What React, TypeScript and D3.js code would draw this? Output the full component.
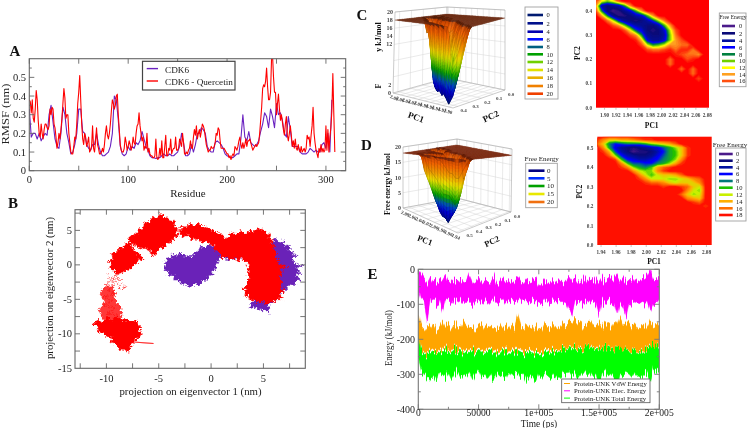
import React, { useMemo } from 'react';
import * as d3 from 'd3';

// ---------- Panel A ----------
const rmsfComplex = [
  .38,.37,.31,.38,.28,.26,.33,.43,.38,.27,
  .2,.18,.25,.2,.17,.22,.25,.25,.23,.22,
  .24,.33,.3,.34,.33,.25,.23,.18,.12,.15,
  .2,.17,.22,.28,.36,.44,.39,.28,.3,.3,
  .2,.15,.1,.09,.09,.13,.18,.17,.25,.36,
  .42,.51,.38,.25,.17,.14,.2,.18,.13,.15,
  .18,.1,.11,.13,.24,.12,.1,.16,.23,.14,
  .12,.09,.09,.1,.12,.1,.14,.2,.24,.19,
  .17,.2,.25,.32,.38,.36,.33,.35,.4,.41,
  .3,.22,.14,.11,.1,.1,.12,.18,.15,.11,
  .13,.16,.14,.11,.13,.18,.15,.14,.2,.24,
  .25,.31,.24,.2,.16,.18,.11,.13,.12,.2,
  .1,.12,.09,.08,.08,.07,.07,.08,.17,.07,
  .06,.07,.12,.08,.16,.07,.07,.13,.19,.08,
  .08,.12,.11,.17,.09,.11,.12,.12,.18,.11,
  .11,.12,.17,.15,.13,.2,.15,.09,.09,.1,
  .09,.11,.12,.16,.12,.12,.18,.22,.19,.24,
  .17,.2,.22,.18,.21,.25,.24,.22,.18,.14,
  .12,.1,.11,.11,.13,.12,.12,.13,.15,.2,
  .19,.23,.22,.16,.12,.12,.12,.12,.11,.1,
  .09,.09,.07,.08,.06,.08,.09,.08,.13,.12,
  .11,.13,.16,.18,.14,.12,.15,.12,.14,.17,
  .13,.16,.16,.17,.15,.13,.11,.12,.13,.14,
  .13,.14,.15,.2,.27,.34,.44,.46,.45,.48,
  .55,.45,.38,.38,.42,.6,.62,.5,.42,.42,
  .3,.36,.41,.33,.27,.3,.26,.22,.19,.25,
  .29,.19,.16,.2,.24,.19,.13,.16,.12,.17,
  .12,.11,.14,.11,.1,.13,.1,.11,.12,.1,
  .12,.19,.17,.18,.13,.19,.24,.34,.2,.15,
  .11,.09,.07,.12,.1,.14,.1,.12,.1,.11,
  .24,.11,.22,.1,.18,.23,.32,.52,.3,.1,
];
const rmsfApo = [
  .33,.18,.2,.2,.17,.2,.16,.18,.2,.19,.3,.35,.26,.17,.13,.12,.2,.34,.3,.2,
  .15,.09,.1,.14,.2,.33,.33,.21,.2,.14,.12,.11,.14,.14,.2,.14,.1,.08,.08,.09,
  .1,.13,.2,.4,.38,.27,.13,.09,.08,.09,.13,.11,.13,.12,.15,.14,.16,.21,.17,.13,
  .11,.08,.07,.07,.065,.07,.07,.08,.09,.08,.08,.09,.08,.08,.09,.1,.13,.2,.15,.08,
  .08,.09,.14,.1,.14,.2,.2,.23,.22,.2,.13,.11,.1,.1,.15,.16,.15,.14,.12,.09,
  .08,.075,.07,.07,.08,.09,.09,.17,.3,.18,.16,.21,.15,.14,.13,.14,.16,.21,.25,.31,
  .29,.23,.33,.29,.23,.36,.3,.31,.27,.2,.18,.29,.22,.13,.13,.13,.13,.1,.09,.09,
  .09,.1,.12,.11,.1,.11,.1,.1,.14,.15,.12,.2,.1,.38,
];
const rmsfXTicks = [0, 100, 200, 300];
const rmsfYTicks = [0, 0.1, 0.2, 0.3, 0.4, 0.5];

// ---------- Panel B (nm) ----------
type P = [number, number];
const purpleLeft: P[] = [[-4.5,.3],[-4.2,.5],[-4.2,1.0],[-3.8,1.1],[-3.8,1.6],[-3.3,1.3],[-2.9,1.7],[-2.5,1.2],[-2.1,1.4],[-1.8,1.0],[-1.5,1.9],[-1.2,2.1],[-1.0,2.7],[-.5,2.6],[-.2,3.0],[.3,2.6],[.8,2.7],[1.2,2.0],[1.8,2.0],[2.4,1.5],[2.9,.9],[2.0,.8],[1.4,.8],[1.0,1.2],[.7,.7],[.6,.2],[.4,-.1],[.5,-.6],[.1,-.8],[.2,-1.4],[-.3,-1.6],[-.4,-2.2],[-.8,-2.3],[-1.1,-3.0],[-1.5,-2.7],[-1.9,-3.3],[-2.3,-2.8],[-2.8,-2.8],[-3.0,-2.2],[-3.6,-2.2],[-3.5,-1.6],[-4.1,-1.5],[-4.0,-.9],[-4.5,-.7],[-4.3,-.2]];
const purpleRight: P[] = [[4.5,3.0],[5.4,3.6],[5.7,3.0],[6.1,3.8],[6.6,3.2],[6.9,3.5],[7.0,2.7],[7.5,2.9],[7.4,2.1],[7.9,2.0],[7.7,1.4],[8.2,1.4],[7.8,.8],[8.0,.1],[8.8,-.1],[8.1,-.5],[8.6,-1.2],[8.1,-1.4],[8.5,-2.2],[8.0,-2.4],[8.1,-3.0],[7.4,-2.8],[7.2,-3.6],[6.9,-3.4],[6.8,-4.2],[6.4,-4.0],[6.2,-5.3],[5.7,-5.4],[5.4,-5.7],[5.6,-7.0],[5.0,-6.5],[4.6,-6.5],[4.4,-6.2],[3.9,-6.3],[3.7,-5.9],[4.0,-5.2],[4.5,-4]];
const redMain: P[] = [[4.5,5.4],[4.9,4.9],[5.0,5.2],[5.3,4.4],[5.6,4.5],[5.5,3.9],[5.9,3.6],[5.7,3.2],[6.1,2.7],[5.9,2.3],[6.3,1.7],[6.1,1.2],[6.5,.6],[6.3,.2],[6.8,-.1],[7.3,-.4],[6.6,-.5],[6.8,-1.2],[6.5,-1.8],[6.8,-2.5],[6.6,-3.1],[6.9,-3.8],[6.6,-4.3],[6.8,-4.9],[6.3,-4.9],[6.1,-5.5],[5.7,-5.2],[5.3,-5.7],[4.9,-5.2],[4.4,-5.5],[4.1,-5.1],[3.6,-5.0],[3.6,-4.5],[3.1,-4.3],[3.4,-3.8],[3.0,-3.4],[3.5,-3.0],[3.4,-2.4],[3.7,-2.0],[3.5,-1.4],[3.7,-.9],[3.5,-.3],[3.6,.2],[3.1,.6],[2.9,1.1],[2.6,.4],[2.3,1.0],[1.9,.8],[1.5,1.2],[1.1,1.0],[.8,1.9],[.3,2.2],[.4,2.8],[-.1,2.9],[-.4,3.5],[-.9,3.1],[-1.3,3.9],[-1.8,3.6],[-2.2,4.3],[-2.7,4.0],[-3.1,4.9],[-2.7,5.2],[-2.9,5.6],[-2.3,5.5],[-2.1,6.0],[-1.6,5.6],[-1.2,6.1],[-.8,5.5],[-.4,5.6],[0,5.0],[.3,5.1],[.6,4.5],[1.0,4.5],[1.4,3.8],[1.7,4.2],[2.0,4.7],[2.4,4.4],[2.8,4.9],[3.3,4.5],[3.7,5.0],[4.0,4.8]];
const redUpper: P[] = [[-7.9,3.9],[-7.5,4.4],[-7.2,4.3],[-6.9,5.2],[-6.5,5.3],[-6.3,6.2],[-5.9,6.1],[-5.6,6.9],[-5.1,6.8],[-4.9,7.5],[-4.5,6.9],[-4.2,7.0],[-4.0,6.4],[-3.5,6.3],[-3.5,5.7],[-3.1,5.4],[-3.3,4.8],[-3.1,4.2],[-3.6,3.9],[-3.7,3.3],[-4.2,3.1],[-4.5,2.4],[-4.9,2.6],[-5.2,1.7],[-5.6,1.2],[-5.8,2.0],[-6.3,2.4],[-6.7,2.3],[-7.2,2.8],[-7.6,3.0]];
const redMid: P[] = [[-8.0,3.3],[-7.5,2.7],[-7.4,2.1],[-7.0,1.8],[-6.7,1.3],[-6.3,.6],[-6.9,.9],[-7.1,.2],[-7.5,-.1],[-7.7,-.7],[-8.1,-.8],[-8.5,-1.1],[-9.1,-1.4],[-9.2,-.8],[-9.7,-.5],[-9.5,0],[-9.8,.5],[-9.4,1.0],[-9.5,1.7],[-9.0,1.8],[-8.8,2.5],[-8.4,2.4]];
const redLow: P[] = [[-11.3,-8.5],[-10.8,-8.0],[-10.4,-8.3],[-10.0,-7.6],[-9.5,-8.0],[-9.1,-7.5],[-8.6,-8.0],[-8.1,-7.9],[-7.6,-8.3],[-7.1,-7.9],[-7.0,-8.6],[-6.7,-9.0],[-6.9,-9.5],[-6.5,-10.1],[-7.0,-10.5],[-7.3,-11.1],[-7.6,-11.4],[-7.7,-12.1],[-8.0,-12.7],[-8.4,-12.2],[-8.8,-12.3],[-9.0,-11.5],[-9.6,-11.2],[-9.4,-10.6],[-10.1,-10.3],[-10.4,-9.9],[-10.9,-9.5],[-10.7,-9.0]];
const redColumn: P[] = [[-10.6,-4.2],[-10.1,-3.0],[-9.3,-3.4],[-9.2,-4.9],[-8.7,-6.0],[-8.5,-7],[-8.6,-8.1],[-10.3,-8.1],[-10.7,-6.6],[-10.2,-5.4]];
const redScribble: P[] = [[-9.9,-1.3],[-9.6,-1.7],[-9.9,-2.1],[-9.2,-1.9],[-8.8,-2.2],[-9.5,-2.5],[-8.5,-2.9],[-8.2,-3.3],[-8.8,-3.5],[-8.0,-3.2],[-8.4,-2.5],[-9.0,-1.6],[-9.7,-2.4],[-10.0,-3.1],[-9.3,-3.0],[-9.8,-3.7],[-9.1,-4.2],[-10.2,-4.6],[-9.4,-5.2],[-10.3,-5.9],[-9.0,-6.3],[-10.0,-7.0],[-8.9,-7.3]];
const redTail: P[] = [[-8.6,-11.1],[-7.2,-11.2],[-5.5,-11.4],[-6.6,-11.3],[-7.8,-11.1]];
const pcaTicks = [-10, -5, 0, 5];
const pcaYTicks = [-15, -10, -5, 0, 5];

// ---------- Panels C and D: free energy matrices (rows from high PC2 to low) ----------
const cGridPC1 = [1.885, 2.085];
const cGridPC2 = [0.44, 0];
const cNumCols = 21;
const cEnergy: number[][] = [
  [16,12,10,12,16],
  [14,4,2,3,4,8,14],
  [16,8,2,0,1,3,5,9,14],
  [18,14,8,3,1,1,2,4,5,9,14],
  [18,18,15,11,6,3,2,1,2,4,7,11,15],
  [18,18,18,16,14,10,6,4,3,2,2,4,9,14],
  [18,18,18,18,18,16,12,7,5,2,1,2,5,11,16],
  [18,18,18,18,18,18,16,14,8,3,2,2,4,10,15],
  [18,18,18,18,18,18,18,17,13,5,3,3,5,10,14,16],
  [18,18,18,18,18,18,18,18,16,11,8,9,11,14,14,15,15],
  [18,18,18,18,18,18,18,18,18,16,15,15,16,17,15,17,17,15],
  [18,18,18,18,18,18,18,18,18,18,18,18,18,18,17,16,15,15,14],
  [18,18,18,18,18,18,18,18,18,18,18,18,18,15,18,18,16,17],
  [18,18,18,18,18,18,18,18,18,18,18,18,18,15],
  [18,18,18,18,18,18,18,18,18,18,18,18,18,18,18,15,18,15],
  [18,18,18,18,18,18,18,18,18,18,18,18,18,18,18,18,18,15],
  [18,18,18,18,18,18,18,18,18,18,18,18,18,18,18,18,18,18,16],
  [],[],[],[],[],[],
];
const dGridPC1 = [1.935, 2.087];
const dGridPC2 = [0.56, 0];
const dNumCols = 20;
const dEnergy: number[][] = [
  [],
  [17,15,13,13,14,14,15,16,17,17],
  [16,13,8,6,7,8,8,8,9,11,12,13,14,16],
  [18,15,9,5,3,2,1,2,3,4,5,7,9,11,13,17],
  [18,17,14,7,4,2,0,1,1,2,4,6,9,10,13,17],
  [18,18,16,11,6,4,3,2,2,3,5,7,9,10,13,17],
  [18,18,18,17,10,6,5,4,4,5,6,8,9,11,15],
  [18,18,18,18,15,10,7,7,6,6,8,9,11,14,17],
  [18,18,18,18,17,15,11,9,8,10,14,16,17],
  [18,18,18,18,18,18,15,12,11,11,15,17],
  [18,18,18,18,18,18,18,15,12,10,12,13,13,14,16],
  [18,18,18,18,18,18,18,17,15,12,12,12,11,11,12,13,15,16],
  [18,18,18,18,18,18,18,18,17,16,16,15,13,12,13,13,13,15],
  [18,18,18,18,18,18,18,18,18,18,18,17,18,18,17,16,13,12],
  [18,18,18,18,18,18,18,18,18,18,18,18,18,18,18,15,12,11],
  [18,18,18,18,18,18,18,18,18,18,18,18,18,18,16,13,11,12],
  [18,18,18,18,18,18,18,18,18,18,18,18,18,18,18,15,14,13],
  [18,18,18,18,18,18,18,18,18,18,18,18,18,18,18,18,17,16],
  [18,18,18,18,18,18,18,18,18,18,18,18,18,18,18,18,18,18,17],
  [],[],[],[],[],[],[],[],[],[],
];
const plateau = 18;

const cHeatX = [1.90,1.92,1.94,1.96,1.98,2.00,2.02,2.04,2.06,2.08];
const cHeatY = [0.0,0.1,0.2,0.3,0.4];
const dHeatX = [1.94,1.96,1.98,2.00,2.02,2.04,2.06,2.08];
const dHeatY = [0.0,0.1,0.2,0.3,0.4,0.5];

const heatCStops = [0,2,4,6,8,10,12,14,16,18];
const heatCColors = ['#4b1a8a','#0a0a78','#0010a0','#0000ff','#008040','#70d000','#ffff00','#ffa020','#ff5010','#ff0000'];
const heatDColors = ['#4b1a8a','#0a0a78','#0010a0','#0000ff','#007878','#20c000','#c8f000','#ffb000','#ff7000','#ff1000'];
const surfStops = [0,3,5,7,9,11,13,16,18];
const surfColors = ['#001a70','#0000d0','#0050c0','#00a000','#80d000','#f0e000','#f0a000','#f06000','#c04000'];
const legend3DColors = ['#001a70','#00108c','#0000b0','#0010ff','#006080','#00a000','#70d000','#e0e000','#e8b000','#f08000','#f04000'];

const cLegend3D = [0,2,4,6,8,10,12,14,16,18,20];
const dLegend3D = [0,5,10,15,20];
const dLegend3DColors = ['#000080','#0030ff','#00a000','#e8e800','#f07010'];
const cLegend2D = [0,2,4,6,8,10,12,14,16];
const dLegend2D = [0,2,4,6,8,10,12,14,16,18];

// ---------- Panel E ----------
const timeStep = 2500;
const magentaTop = [-3,-15,-28,-40,-22,-38,-30,-26,-35,-20,-42,-36,-30,-38,-28,-40,-34,-12,-32,-36,-25,-40,-30,-38,-34,-20,-42,-36,-28,-40,-32,-38,-30,-24,-36,-42,-30,-38,-35,-28,-44,-38,-30,-40,-34,-42,-36,-30,-38,-34,-22,-34,-28,-40,-32,-24,-38,-30,-36,-26,-38,-24,-34,-28,-20,-30,-18,-34,-26,-38,-30,-22,-36,-30,-34,-24,-18,-2,-28,-30,-25];
const magentaBottom = [-55,-88,-95,-145,-92,-85,-95,-90,-120,-88,-92,-100,-85,-95,-90,-100,-92,-88,-98,-85,-92,-95,-88,-100,-90,-85,-95,-92,-88,-100,-94,-86,-92,-98,-90,-88,-96,-100,-92,-94,-90,-98,-86,-92,-100,-90,-94,-88,-96,-92,-115,-135,-100,-95,-90,-98,-92,-100,-94,-98,-130,-92,-98,-90,-96,-100,-130,-95,-105,-140,-100,-92,-98,-94,-96,-100,-92,-120,-96,-100,-88];
const orangeTop = [-120,-165,-175,-160,-170,-155,-172,-165,-150,-168,-160,-172,-155,-165,-170,-150,-160,-168,-158,-170,-162,-155,-172,-165,-160,-170,-168,-158,-172,-165,-175,-160,-170,-135,-165,-172,-160,-170,-175,-160,-168,-172,-155,-165,-170,-160,-172,-168,-155,-160,-150,-158,-145,-155,-150,-165,-158,-150,-165,-160,-155,-168,-152,-160,-165,-148,-160,-135,-155,-160,-150,-165,-158,-170,-165,-155,-168,-150,-160,-165,-155];
const orangeBottom = [-180,-228,-235,-240,-230,-225,-235,-228,-230,-222,-235,-230,-226,-232,-225,-235,-228,-230,-222,-232,-226,-230,-235,-228,-224,-232,-228,-235,-226,-230,-238,-232,-228,-236,-230,-240,-234,-230,-238,-232,-236,-240,-232,-228,-236,-230,-234,-228,-224,-222,-226,-220,-224,-228,-220,-225,-218,-222,-226,-220,-228,-224,-218,-225,-222,-228,-220,-224,-226,-230,-235,-232,-228,-236,-230,-232,-224,-220,-215,-222,-218];
const greenTop = [-170,-235,-240,-245,-238,-232,-240,-235,-238,-230,-240,-236,-230,-238,-232,-242,-235,-238,-228,-240,-232,-236,-242,-235,-230,-240,-236,-242,-232,-238,-245,-240,-236,-242,-238,-248,-240,-236,-245,-240,-242,-248,-240,-235,-242,-238,-240,-232,-228,-226,-230,-225,-228,-232,-225,-228,-218,-226,-230,-225,-232,-226,-220,-228,-225,-230,-222,-215,-228,-232,-238,-236,-230,-240,-234,-236,-228,-225,-190,-222,-225];
const greenBottom = [-245,-290,-300,-310,-318,-305,-320,-295,-300,-310,-295,-315,-300,-290,-310,-298,-305,-292,-315,-300,-290,-308,-296,-312,-300,-318,-295,-305,-300,-312,-295,-308,-300,-296,-310,-300,-318,-305,-310,-322,-300,-310,-296,-305,-312,-300,-315,-308,-295,-300,-290,-305,-295,-310,-298,-290,-305,-295,-310,-300,-330,-300,-292,-305,-298,-310,-335,-300,-305,-295,-300,-310,-295,-305,-310,-300,-298,-320,-285,-295,-290];
const energyXTicks = [0, 50000, 100000, 150000, 200000];
const energyXLabels = ['0', '50000', '1e+005', '1.5e+005', '2e+005'];
const energyYTicks = [0, -100, -200, -300, -400];
const energyLegend = ['Protein-UNK VdW Energy', 'Protein-UNK Elec. Energy', 'Protein-UNK Total Energy'];
const energyColors = ['#ffa500', '#ff00ff', '#00ff00'];

const SERIF = '"Liberation Serif", serif';

function Box({ x0, x1, y0, y1, xs, ys, color = '#666', major = 5, minor = 2.5, xMinor = [], yMinor = [] }: any) {
  const seg: string[] = [];
  xs.forEach((x: number) => seg.push(`M${x},${y0}v${-major}M${x},${y1}v${major}`));
  ys.forEach((y: number) => seg.push(`M${x0},${y}h${major}M${x1},${y}h${-major}`));
  xMinor.forEach((x: number) => seg.push(`M${x},${y0}v${-minor}M${x},${y1}v${minor}`));
  yMinor.forEach((y: number) => seg.push(`M${x0},${y}h${minor}M${x1},${y}h${-minor}`));
  return (
    <g fill="none" stroke={color}>
      <rect x={x0} y={y1} width={x1 - x0} height={y0 - y1} strokeWidth={1.1} />
      <path d={seg.join('')} strokeWidth={0.9} />
    </g>
  );
}

function PanelA() {
  const x = d3.scaleLinear([0, 320], [29.3, 345.7]);
  const y = d3.scaleLinear([0, 0.6], [170.7, 58.7]);
  const lineC = d3.line<number>().x((_, i) => x(i)).y((d) => y(d));
  const lineP = d3.line<number>().x((_, i) => x(i * 2)).y((d) => y(d));
  return (
    <g>
      <clipPath id="clipA"><rect x={29.3} y={58.7} width={316.4} height={112} /></clipPath>
      <g clipPath="url(#clipA)" fill="none" strokeWidth={1.1} strokeLinejoin="round">
        <path d={lineP(rmsfApo)!} stroke="#6a22c0" />
        <path d={lineC(rmsfComplex)!} stroke="#ff0000" />
      </g>
      <Box x0={29.3} x1={345.7} y0={170.7} y1={58.7}
        xs={d3.range(0, 320, 50).map((v) => x(v))}
        ys={rmsfYTicks.map((v) => y(v))}
        yMinor={d3.range(0.05, 0.6, 0.1).map((v) => y(v))} />
      <g fontFamily={SERIF} fontSize={10.5} fill="#222">
        {rmsfXTicks.map((v) => <text key={v} x={x(v)} y={182.5} textAnchor="middle">{v}</text>)}
        {rmsfYTicks.map((v) => <text key={v} x={26} y={y(v) + 3.5} textAnchor="end">{v}</text>)}
        <text transform="translate(8.5,114) rotate(-90)" textAnchor="middle" textLength={61} lengthAdjust="spacingAndGlyphs">RMSF (nm)</text>
        <text x={188} y={196.7} textAnchor="middle" fontSize={11}>Residue</text>
      </g>
      <rect x={142.5} y={61.3} width={92.5} height={28.7} fill="#fff" stroke="#444" strokeWidth={1.2} />
      <g strokeWidth={1.4} fill="none">
        <path d="M146.7,68.6H158" stroke="#6a22c0" />
        <path d="M146.7,81H158" stroke="#ff0000" />
      </g>
      <g fontFamily={SERIF} fontSize={9.2} fill="#222">
        <text x={165} y={72.5}>CDK6</text>
        <text x={165} y={85}>CDK6 - Quercetin</text>
      </g>
    </g>
  );
}

function PanelB() {
  const x = d3.scaleLinear([-13, 9], [75, 305.3]);
  const y = d3.scaleLinear([-15, 8], [368.3, 209.7]);
  const closed = d3.line<P>().x((d) => x(d[0])).y((d) => y(d[1])).curve(d3.curveLinearClosed);
  const open = d3.line<P>().x((d) => x(d[0])).y((d) => y(d[1]));
  const purple = '#6a22b8';
  return (
    <g>
      <filter id="hair" filterUnits="userSpaceOnUse" x={70} y={200} width={240} height={175} colorInterpolationFilters="sRGB">
        <feTurbulence type="fractalNoise" baseFrequency={0.42} numOctaves={2} seed={4} result="n" />
        <feDisplacementMap in="SourceGraphic" in2="n" scale={7} xChannelSelector="R" yChannelSelector="G" />
      </filter>
      <g filter="url(#hair)">
        <g fill={purple} stroke={purple} strokeWidth={0.5}>
          <path d={closed(purpleLeft)!} />
          <path d={closed(purpleRight)!} />
        </g>
        <g fill="#ff0000" stroke="#ff0000" strokeWidth={0.5}>
          <path d={closed(redMain)!} />
          <path d={closed(redUpper)!} />
          <path d={closed(redMid)!} />
          <path d={closed(redLow)!} />
          <path d={closed(redColumn)!} fillOpacity={0.78} />
          <path d={open(redScribble)!} fill="none" />
        </g>
      </g>
      <path d={open(redTail)!} fill="none" stroke="#ff0000" strokeWidth={0.6} />
      <Box x0={75} x1={305.3} y0={368.3} y1={209.7}
        xs={d3.range(-12.5, 9, 2.5).map((v) => x(v))}
        ys={d3.range(-12.5, 8, 2.5).map((v) => y(v))} />
      <g fontFamily={SERIF} fontSize={10.5} fill="#222">
        {pcaTicks.map((v) => <text key={v} x={x(v)} y={381.5} textAnchor="middle">{v}</text>)}
        {pcaYTicks.map((v) => <text key={v} x={72} y={y(v) + 3.5} textAnchor="end">{v}</text>)}
        <text x={190.5} y={395} textAnchor="middle" fontSize={10.8}>projection on eigenvector 1 (nm)</text>
        <text transform="translate(53,288) rotate(-90)" textAnchor="middle" fontSize={10.8}>projection on eigenvector 2 (nm)</text>
      </g>
    </g>
  );
}

function fullMatrix(rows: number[][], nCols: number) {
  return rows.map((r) => d3.range(nCols).map((i) => (i < r.length ? r[i] : plateau)));
}

function Heat({ id, rows, nCols, gridX, gridY, xd, yd, box, colors, xTicks, yTicks, labelY, pc1, pc2 }: any) {
  const mat = fullMatrix(rows, nCols);
  const nRows = mat.length;
  const x = d3.scaleLinear(xd, [box.x0, box.x1]);
  const y = d3.scaleLinear(yd, [box.y0, box.y1]);
  const colX = d3.scaleLinear([0.5, nCols - 0.5], gridX.map((v: number) => x(v)));
  const rowY = d3.scaleLinear([0.5, nRows - 0.5], gridY.map((v: number) => y(v)));
  const path = d3.geoPath(d3.geoTransform({
    point(a: number, b: number) { (this as any).stream.point(colX(a), rowY(b)); },
  }));
  const color = d3.scaleLinear<string>(heatCStops, colors);
  const levels = d3.range(17.5, -0.5, -0.5);
  const contours = d3.contours().size([nCols, nRows]).thresholds(levels.map((l) => -l))(mat.flat().map((v) => -v));
  return (
    <g>
      <clipPath id={id}><rect x={box.x0} y={box.y1} width={box.x1 - box.x0} height={box.y0 - box.y1} /></clipPath>
      <rect x={box.x0} y={box.y1} width={box.x1 - box.x0} height={box.y0 - box.y1} fill={colors[colors.length - 1]} />
      <g clipPath={`url(#${id})`}>
        {contours.map((c: any) => <path key={c.value} d={path(c as any) || ''} fill={color(-c.value)} />)}
      </g>
      <g fontFamily={SERIF} fontSize={5.2} fontWeight="bold" fill="#444">
        {xTicks.map((v: number) => <text key={v} x={x(v)} y={labelY} textAnchor="middle">{v.toFixed(2)}</text>)}
        {yTicks.map((v: number) => <text key={v} x={box.x0 - 4} y={y(v) + 2} textAnchor="end">{v.toFixed(1)}</text>)}
      </g>
      <g stroke="#888" strokeWidth={0.5}>
        {xTicks.map((v: number) => <line key={v} x1={x(v)} x2={x(v)} y1={box.y0} y2={box.y0 + 2} />)}
      </g>
      <g fontFamily={SERIF} fontSize={7.5} fontWeight="bold" fill="#111" textAnchor="middle">
        <text x={pc1[0]} y={pc1[1]}>PC1</text>
        <text transform={`translate(${pc2[0]},${pc2[1]}) rotate(-90)`}>PC2</text>
      </g>
    </g>
  );
}

function Surface({ rows, nCols, corners, plateauFill, uTicks, vTicks, zTicks, zLabels, uFmt, vFmt }: any) {
  const mat = useMemo(() => fullMatrix(rows, nCols), [rows, nCols]);
  const nRows = mat.length;
  const lerp = (a: number, b: number, t: number) => a + (b - a) * t;
  const proj = (u: number, v: number, z: number): P => {
    const t = z / 20;
    const bi = (k: number, set: any) =>
      set.F[k] * (1 - u) * (1 - v) + set.L[k] * u * (1 - v) + set.R[k] * (1 - u) * v + set.B[k] * u * v;
    return [lerp(bi(0, corners.floor), bi(0, corners.top), t), lerp(bi(1, corners.floor), bi(1, corners.top), t)];
  };
  const color = d3.scaleLinear<string>(surfStops, surfColors);
  const poly = (pts: P[]) => d3.line()(pts)! + 'Z';
  const items = useMemo(() => {
    const out: any[] = [];
    const cells: [number, number][] = [];
    for (let j = 0; j < nRows - 1; j++) for (let i = 0; i < nCols - 1; i++) cells.push([i, j]);
    const uOf = (i: number) => i / (nCols - 1);
    const vOf = (j: number) => j / (nRows - 1);
    cells.sort((a, b) => uOf(b[0]) + vOf(b[1]) - (uOf(a[0]) + vOf(a[1])));
    for (const [i, j] of cells) {
      const a = mat[j][i], b = mat[j][i + 1], c = mat[j + 1][i], d = mat[j + 1][i + 1];
      const u0 = uOf(i), u1 = uOf(i + 1), v0 = vOf(j), v1 = vOf(j + 1);
      const flat = Math.min(a, b, c, d) >= plateau;
      const corner = [proj(u0, v0, a), proj(u1, v0, b), proj(u1, v1, d), proj(u0, v1, c)];
      if (flat) {
        out.push({ d: poly(corner), fill: plateauFill, stroke: plateauFill });
      } else {
        const n = 6;
        const val = (s: number, t: number) => lerp(lerp(a, b, s), lerp(c, d, s), t);
        const pt = (s: number, t: number): P => proj(lerp(u0, u1, s), lerp(v0, v1, t), val(s, t));
        for (let p = n - 1; p >= 0; p--) for (let q = n - 1; q >= 0; q--) {
          const s0 = q / n, s1 = (q + 1) / n, t0 = p / n, t1 = (p + 1) / n;
          const z = val((s0 + s1) / 2, (t0 + t1) / 2);
          const fill = z > 17.6 ? plateauFill : color(z);
          out.push({ d: poly([pt(s0, t0), pt(s1, t0), pt(s1, t1), pt(s0, t1)]), fill, stroke: fill });
        }
        out.push({ d: poly(corner), fill: 'none', stroke: 'rgba(0,0,0,0.28)', w: 0.4 });
      }
    }
    return out;
  }, [mat]);
  const seg = (a: P, b: P) => `M${a[0]},${a[1]}L${b[0]},${b[1]}`;
  const grid: string[] = [];
  uTicks.forEach((t: any) => {
    grid.push(seg(proj(t.u, 0, 0), proj(t.u, 1, 0)));
    grid.push(seg(proj(t.u, 1, 0), proj(t.u, 1, 20)));
  });
  vTicks.forEach((t: any) => {
    grid.push(seg(proj(0, t.v, 0), proj(1, t.v, 0)));
    grid.push(seg(proj(1, t.v, 0), proj(1, t.v, 20)));
  });
  zTicks.forEach((z: number) => {
    grid.push(seg(proj(1, 0, z), proj(1, 1, z)));
    grid.push(seg(proj(1, 1, z), proj(0, 1, z)));
  });
  const outline = [
    seg(proj(1, 0, 0), proj(1, 1, 0)), seg(proj(1, 1, 0), proj(0, 1, 0)),
    seg(proj(1, 0, 0), proj(0, 0, 0)), seg(proj(0, 0, 0), proj(0, 1, 0)),
    seg(proj(1, 0, 0), proj(1, 0, 20)), seg(proj(1, 0, 20), proj(1, 1, 20)),
    seg(proj(1, 1, 20), proj(0, 1, 20)), seg(proj(0, 1, 20), proj(0, 1, 0)),
    seg(proj(1, 1, 0), proj(1, 1, 20)),
  ];
  return (
    <g>
      <path d={grid.join('')} stroke="#d4d4d4" strokeWidth={0.5} fill="none" />
      <path d={outline.join('')} stroke="#a8a8a8" strokeWidth={0.6} fill="none" />
      {items.map((it: any, i: number) => (
        <path key={i} d={it.d} fill={it.fill} stroke={it.stroke} strokeWidth={it.w ?? 0.25} />
      ))}
      <g fontFamily={SERIF} fontSize={5} fontWeight="bold" fill="#444">
        {uTicks.map((t: any) => {
          const p = proj(t.u, 0, 0);
          return <text key={t.label} transform={`translate(${p[0] - 1},${p[1] + 6}) rotate(22)`} textAnchor="middle">{uFmt(t.label)}</text>;
        })}
        {vTicks.map((t: any) => {
          const p = proj(0, t.v, 0);
          return <text key={t.label} x={p[0] + 6} y={p[1] + 6} textAnchor="middle">{vFmt(t.label)}</text>;
        })}
      </g>
      <g fontFamily={SERIF} fontSize={6} fontWeight="bold" fill="#444">
        {zLabels.map((z: number) => {
          const p = proj(1, 0, z);
          return <text key={z} x={p[0] - 2} y={p[1] + 2} textAnchor="end">{z}</text>;
        })}
      </g>
    </g>
  );
}

function Legend({ title, values, colors, box, swX, labX, rowY, titleY, titleX, fontSize = 6.5, titleSize = 6.5 }: any) {
  return (
    <g>
      <rect x={box[0]} y={box[1]} width={box[2] - box[0]} height={box[3] - box[1]} fill="#fff" stroke="#a0a0a0" strokeWidth={0.9} />
      {title && <text x={titleX} y={titleY} fontFamily={SERIF} fontSize={titleSize} textAnchor="middle" fill="#222">{title}</text>}
      {values.map((v: number, i: number) => (
        <g key={v}>
          <rect x={swX[0]} y={rowY[i] - 1.3} width={swX[1] - swX[0]} height={2.6} fill={colors[i]} />
          <text x={labX} y={rowY[i] + 2.2} fontFamily={SERIF} fontSize={fontSize} fill="#222">{v}</text>
        </g>
      ))}
    </g>
  );
}

function PanelE() {
  const x = d3.scaleLinear([0, 200000], [418.3, 659.3]);
  const y = d3.scaleLinear([-400, 0], [409.3, 269.3]);
  const band = (top: number[], bottom: number[]) => {
    const n = Math.min(top.length, bottom.length);
    return d3.area<number>().x((d) => x(d * timeStep)).y0((d) => y(bottom[d])).y1((d) => y(top[d]))(d3.range(n))!;
  };
  const xt = energyXTicks.map((v) => x(v));
  return (
    <g>
      <filter id="spikes" filterUnits="userSpaceOnUse" x={410} y={255} width={260} height={165} colorInterpolationFilters="sRGB">
        <feTurbulence type="fractalNoise" baseFrequency="0.9 0.008" numOctaves={2} seed={9} />
        <feColorMatrix values="1.6 0 0 0 -0.3  0 0 0 0 0.5  0 0 0 0 0  0 0 0 0 1" result="n" />
        <feDisplacementMap in="SourceGraphic" in2="n" scale={11} xChannelSelector="G" yChannelSelector="R" />
      </filter>
      <clipPath id="clipE"><rect x={418.3} y={269.3} width={241} height={140} /></clipPath>
      <g clipPath="url(#clipE)">
        <g filter="url(#spikes)" strokeWidth={0.5}>
          <path d={band(magentaTop, magentaBottom)} fill="#ff00ff" stroke="#ff00ff" />
          <path d={band(greenTop, greenBottom)} fill="#00ff00" stroke="#00ff00" />
          <path d={band(orangeTop, orangeBottom)} fill="#ffa500" stroke="#ffa500" />
        </g>
      </g>
      <Box x0={418.3} x1={659.3} y0={409.3} y1={269.3} color="#777"
        xs={xt} ys={energyYTicks.map((v) => y(v))}
        xMinor={d3.range(25000, 200000, 50000).map((v) => x(v))}
        yMinor={d3.range(-350, 0, 100).map((v) => y(v))} />
      <g fontFamily={SERIF} fontSize={10} fill="#222">
        {energyXTicks.map((v, i) => <text key={v} x={x(v)} y={416.3} textAnchor="middle" fontSize={9.6}>{energyXLabels[i]}</text>)}
        {energyYTicks.map((v) => <text key={v} x={415} y={y(v) + 3.5} textAnchor="end">{v}</text>)}
        <text x={539} y={426.8} textAnchor="middle" fontSize={9.4}>Time (ps)</text>
        <text transform="translate(392,338) rotate(-90)" textAnchor="middle" fontSize={9.5} textLength={56} lengthAdjust="spacingAndGlyphs">Energy (kJ/mol)</text>
      </g>
      <rect x={561.7} y={379} width={88.3} height={23.7} fill="#fff" stroke="#555" strokeWidth={0.8} />
      {energyLegend.map((t, i) => (
        <g key={t}>
          <line x1={564} x2={570} y1={383.5 + i * 7.3} y2={383.5 + i * 7.3} stroke={energyColors[i]} strokeWidth={1} />
          <text x={574} y={385.7 + i * 7.4} fontFamily={SERIF} fontSize={6.7} fill="#222">{t}</text>
        </g>
      ))}
    </g>
  );
}

const tickU = (vals: number[], d: number[]) => vals.map((v) => ({ u: (v - d[0]) / (d[1] - d[0]), label: v }));
const tickV = (vals: number[], d: number[]) => vals.map((v) => ({ v: (d[0] - v) / (d[0] - d[1]), label: v }));

export default function App() {
  const letters: [string, number, number][] = [
    ['A', 9.5, 55.7], ['B', 8, 207.7], ['C', 356.5, 20], ['D', 361, 150], ['E', 367.5, 279],
  ];
  const cCorners = {
    floor: { F: [453, 108], L: [393, 93], R: [505, 90], B: [447, 78] },
    top: { F: [466, 20], L: [395, 12], R: [505, 10], B: [447, 7] },
  };
  const dCorners = {
    floor: { F: [458, 233], L: [403, 208], R: [511, 212], B: [457, 198] },
    top: { F: [466, 152], L: [403, 147], R: [512, 149], B: [457, 139] },
  };
  return (
    <svg width={750} height={428} style={{ position: 'absolute', left: 0, top: 0, background: '#fff', filter: 'blur(0.45px)' }}>
      <PanelA />
      <PanelB />

      <Surface rows={cEnergy} nCols={cNumCols} corners={cCorners} plateauFill="#6b2a10"
        uTicks={tickU(cHeatX, cGridPC1)} vTicks={tickV(cHeatY, cGridPC2)} zTicks={[4, 8, 12, 16, 20]}
        zLabels={[0, 2, 12, 14, 16, 18, 20]} uFmt={(v: number) => v.toFixed(2)} vFmt={(v: number) => v.toFixed(1)} />
      <g fontFamily={SERIF} fontWeight="bold" fill="#111" textAnchor="middle">
        <text transform="translate(381,37) rotate(-90)" fontSize={8}>y kJ/mol</text>
        <text transform="translate(381,86) rotate(-90)" fontSize={8}>F</text>
        <text transform="translate(415,120) rotate(20)" fontSize={9}>PC1</text>
        <text transform="translate(492,119) rotate(-25)" fontSize={9}>PC2</text>
      </g>
      <Legend values={cLegend3D} colors={legend3DColors} box={[525, 7, 558, 99]} swX={[527.5, 543]} labX={546.5}
        rowY={[15, 23.3, 31.7, 39.3, 47, 54.3, 62, 70, 77.7, 86, 93.7]} />

      <Heat id="clipC" rows={cEnergy} nCols={cNumCols} gridX={cGridPC1} gridY={cGridPC2}
        xd={[1.885, 2.083]} yd={[0, 0.445]} box={{ x0: 596, x1: 709, y0: 107.7, y1: 0 }} colors={heatCColors}
        xTicks={cHeatX} yTicks={cHeatY} labelY={116.5} pc1={[651.7, 128]} pc2={[580, 53]} />
      <Legend title="Free Energy" titleX={733} titleY={19} titleSize={5.5} values={cLegend2D}
        colors={heatCColors} box={[719.3, 13, 746, 86.7]} swX={[722, 735]} labX={739}
        rowY={[26, 33.3, 40.7, 47.3, 54.3, 61, 67.7, 74.3, 81]} />

      <Surface rows={dEnergy} nCols={dNumCols} corners={dCorners} plateauFill="#7a2a10"
        uTicks={tickU(dHeatX, dGridPC1)} vTicks={tickV(dHeatY, dGridPC2)} zTicks={[0, 5, 10, 15, 20]}
        zLabels={[0, 5, 10, 15, 20]} uFmt={(v: number) => v.toFixed(2)} vFmt={(v: number) => v.toFixed(1)} />
      <g fontFamily={SERIF} fontWeight="bold" fill="#111" textAnchor="middle">
        <text transform="translate(390,184) rotate(-90)" fontSize={7.5}>Free energy kJ/mol</text>
        <text transform="translate(424,243) rotate(20)" fontSize={8.5}>PC1</text>
        <text transform="translate(493,244) rotate(-25)" fontSize={8.5}>PC2</text>
      </g>
      <Legend title="Free Energy" titleX={541.7} titleY={161} titleSize={7} fontSize={7} values={dLegend3D} colors={dLegend3DColors}
        box={[525.7, 163.3, 557.3, 207.7]} swX={[528.5, 544.5]} labX={547}
        rowY={[170.7, 178.3, 186, 194, 202]} />

      <Heat id="clipD" rows={dEnergy} nCols={dNumCols} gridX={dGridPC1} gridY={dGridPC2}
        xd={[1.935, 2.087]} yd={[0, 0.557]} box={{ x0: 597.3, x1: 711.7, y0: 245, y1: 136.7 }} colors={heatDColors}
        xTicks={dHeatX} yTicks={dHeatY} labelY={254} pc1={[654, 264]} pc2={[582, 191.7]} />
      <Legend title="Free Energy" titleX={730} titleY={146.5} titleSize={7} values={dLegend2D}
        colors={heatDColors} box={[715.7, 148, 746, 221]} swX={[719, 732.7]} labX={736}
        rowY={[154, 160.7, 167.3, 174, 181, 187.7, 194.7, 201.3, 208.3, 215]} />

      <PanelE />

      <g fontFamily={SERIF} fontWeight="bold" fontSize={15} fill="#111">
        {letters.map(([t, x, y]) => <text key={t} x={x} y={y}>{t}</text>)}
      </g>
    </svg>
  );
}
